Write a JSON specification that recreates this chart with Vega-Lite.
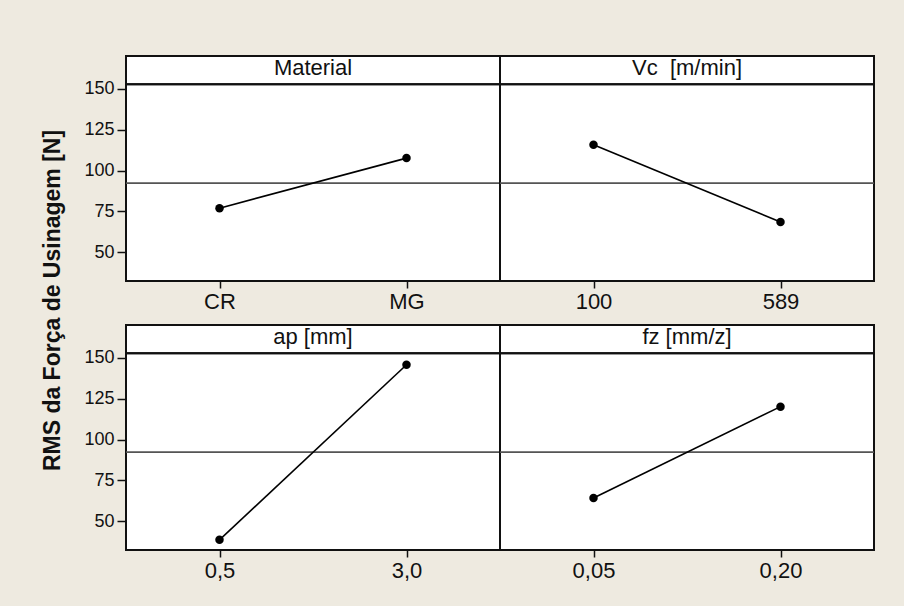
{
  "$schema": "https://vega.github.io/schema/vega-lite/v6.json",
  "background": "#eeeae0",
  "padding": {"left": 39, "top": 55, "right": 32, "bottom": 24},
  "bounds": "flush",
  "data": {
    "values": [
      {"factor": "Material", "level": "CR", "rms": 77.0},
      {"factor": "Material", "level": "MG", "rms": 107.6},
      {"factor": "Vc", "level": "100", "rms": 115.8},
      {"factor": "Vc", "level": "589", "rms": 68.6},
      {"factor": "ap", "level": "0,5", "rms": 38.7},
      {"factor": "ap", "level": "3,0", "rms": 145.7},
      {"factor": "fz", "level": "0,05", "rms": 64.3},
      {"factor": "fz", "level": "0,20", "rms": 120.1}
    ]
  },
  "columns": 2,
  "spacing": {"row": 44, "column": 0},
  "concat": [
    {
      "width": 374,
      "height": 225,
      "title": {"text": "Material"},
      "transform": [{"filter": "datum.factor === 'Material'"}],
      "layer": [
        {"mark": {"type": "rule", "color": "#111111", "strokeWidth": 2}, "encoding": {"y": {"datum": 152.8, "type": "quantitative"}}},
        {"mark": {"type": "rule", "color": "#555555", "strokeWidth": 1.5}, "encoding": {"y": {"datum": 92.2, "type": "quantitative"}}},
        {
          "mark": {"type": "line", "color": "#000000", "strokeWidth": 1.6, "point": {"filled": true, "color": "#000000", "size": 72, "opacity": 1}},
          "encoding": {
            "x": {"field": "level", "type": "nominal", "scale": {"type": "point", "padding": 0.5}, "axis": {"title": null}},
            "y": {
              "field": "rms", "type": "quantitative",
              "scale": {"domain": [32.5, 170], "nice": false, "zero": false},
              "axis": {
                "values": [50, 75, 100, 125, 150],
                "title": "RMS da Força de Usinagem [N]",
                "titleX": -74,
                "titleY": 244,
                "titleAlign": "center",
                "titleBaseline": "middle",
                "titleAngle": -90,
                "titleFont": "Liberation Sans",
                "titleFontSize": 23,
                "titleFontWeight": "bold",
                "titleColor": "#111111"
              }
            }
          }
        }
      ]
    },
    {
      "width": 374,
      "height": 225,
      "title": {"text": "Vc \u00a0[m/min]"},
      "transform": [{"filter": "datum.factor === 'Vc'"}],
      "layer": [
        {"mark": {"type": "rule", "color": "#111111", "strokeWidth": 2}, "encoding": {"y": {"datum": 152.8, "type": "quantitative", "axis": null}}},
        {"mark": {"type": "rule", "color": "#555555", "strokeWidth": 1.5}, "encoding": {"y": {"datum": 92.2, "type": "quantitative", "axis": null}}},
        {
          "mark": {"type": "line", "color": "#000000", "strokeWidth": 1.6, "point": {"filled": true, "color": "#000000", "size": 72, "opacity": 1}},
          "encoding": {
            "x": {"field": "level", "type": "nominal", "scale": {"type": "point", "padding": 0.5}, "axis": {"title": null}},
            "y": {"field": "rms", "type": "quantitative", "scale": {"domain": [32.5, 170], "nice": false, "zero": false}, "axis": null}
          }
        }
      ]
    },
    {
      "width": 374,
      "height": 225,
      "title": {"text": "ap [mm]"},
      "transform": [{"filter": "datum.factor === 'ap'"}],
      "layer": [
        {"mark": {"type": "rule", "color": "#111111", "strokeWidth": 2}, "encoding": {"y": {"datum": 152.8, "type": "quantitative"}}},
        {"mark": {"type": "rule", "color": "#555555", "strokeWidth": 1.5}, "encoding": {"y": {"datum": 92.2, "type": "quantitative"}}},
        {
          "mark": {"type": "line", "color": "#000000", "strokeWidth": 1.6, "point": {"filled": true, "color": "#000000", "size": 72, "opacity": 1}},
          "encoding": {
            "x": {"field": "level", "type": "nominal", "scale": {"type": "point", "padding": 0.5}, "axis": {"title": null}},
            "y": {"field": "rms", "type": "quantitative", "scale": {"domain": [32.5, 170], "nice": false, "zero": false}, "axis": {"title": null, "values": [50, 75, 100, 125, 150]}}
          }
        }
      ]
    },
    {
      "width": 374,
      "height": 225,
      "title": {"text": "fz [mm/z]"},
      "transform": [{"filter": "datum.factor === 'fz'"}],
      "layer": [
        {"mark": {"type": "rule", "color": "#111111", "strokeWidth": 2}, "encoding": {"y": {"datum": 152.8, "type": "quantitative", "axis": null}}},
        {"mark": {"type": "rule", "color": "#555555", "strokeWidth": 1.5}, "encoding": {"y": {"datum": 92.2, "type": "quantitative", "axis": null}}},
        {
          "mark": {"type": "line", "color": "#000000", "strokeWidth": 1.6, "point": {"filled": true, "color": "#000000", "size": 72, "opacity": 1}},
          "encoding": {
            "x": {"field": "level", "type": "nominal", "scale": {"type": "point", "padding": 0.5}, "axis": {"title": null}},
            "y": {"field": "rms", "type": "quantitative", "scale": {"domain": [32.5, 170], "nice": false, "zero": false}, "axis": null}
          }
        }
      ]
    }
  ],
  "config": {
    "view": {"fill": "#ffffff", "stroke": "#111111", "strokeWidth": 2},
    "title": {
      "font": "Liberation Sans",
      "fontSize": 22,
      "fontWeight": "normal",
      "color": "#111111",
      "anchor": "middle",
      "baseline": "alphabetic",
      "offset": -24
    },
    "axisX": {
      "labelAngle": 0,
      "labelFont": "Liberation Sans",
      "labelFontSize": 22,
      "labelColor": "#111111",
      "labelPadding": 3,
      "tickSize": 7,
      "tickColor": "#111111",
      "tickWidth": 1.5,
      "domain": false
    },
    "axisY": {
      "grid": false,
      "domain": false,
      "labelFont": "Liberation Sans",
      "labelFontSize": 18,
      "labelColor": "#111111",
      "labelPadding": 3,
      "tickSize": 9,
      "tickColor": "#111111",
      "tickWidth": 1.5
    }
  }
}
